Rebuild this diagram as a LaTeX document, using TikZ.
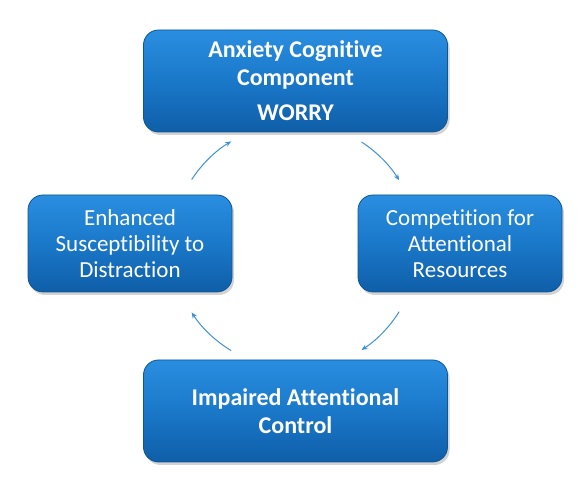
\documentclass[tikz,border=0pt]{standalone}
\usepackage{fontspec}
\setmainfont{Carlito}[Ligatures=NoCommon]
\usetikzlibrary{shadows,arrows.meta,calc}
\definecolor{boxtop}{HTML}{2A8EE0}
\definecolor{boxmid}{HTML}{1A78C9}
\definecolor{boxbot}{HTML}{0F5EA8}
\definecolor{boxedge}{HTML}{0D5698}
\definecolor{arrowc}{HTML}{3F92D2}
\tikzset{
  cyclebox/.style={rounded corners=15pt, draw=boxedge, line width=0.8pt,
    top color=boxtop, bottom color=boxbot, middle color=boxmid,
    text=white, align=center, inner sep=0pt,
    drop shadow={shadow xshift=2pt, shadow yshift=-3pt, opacity=0.35}},
  bigbox/.style={cyclebox, minimum width=304pt, minimum height=102pt,
    font=\fontsize{24}{28}\selectfont\bfseries},
  smallbox/.style={cyclebox, minimum width=204pt, minimum height=97pt,
    font=\fontsize{23}{26}\selectfont},
  cyclearrow/.style={draw=arrowc, line width=1pt, -{Stealth[length=6pt,width=5pt]}}
}
\begin{document}
\begin{tikzpicture}[x=1pt,y=1pt]
\useasboundingbox (0,0) rectangle (584,478);
\node[bigbox] (top) at (295.5,397) {Anxiety Cognitive\\Component\\[7pt]WORRY};
\node[smallbox] (left) at (130,234.5) {Enhanced\\Susceptibility to\\Distraction};
\node[smallbox] (right) at (460,234.5) {Competition for\\Attentional\\Resources};
\node[bigbox] (bottom) at (295.5,67) {Impaired Attentional\\Control};
\coordinate (c) at (294,232);
\coordinate (a1) at ($(c)+(147:122)$);
\coordinate (a2) at ($(c)+(57:124)$);
\coordinate (a3) at ($(c)+(-32:124)$);
\coordinate (a4) at ($(c)+(-121:122)$);
\draw[cyclearrow] (a1) arc[start angle=147, end angle=121, radius=122];
\draw[cyclearrow] (a2) arc[start angle=57, end angle=32, radius=124];
\draw[cyclearrow] (a3) arc[start angle=-32, end angle=-57, radius=124];
\draw[cyclearrow] (a4) arc[start angle=-121, end angle=-147, radius=122];
\end{tikzpicture}
\end{document}
